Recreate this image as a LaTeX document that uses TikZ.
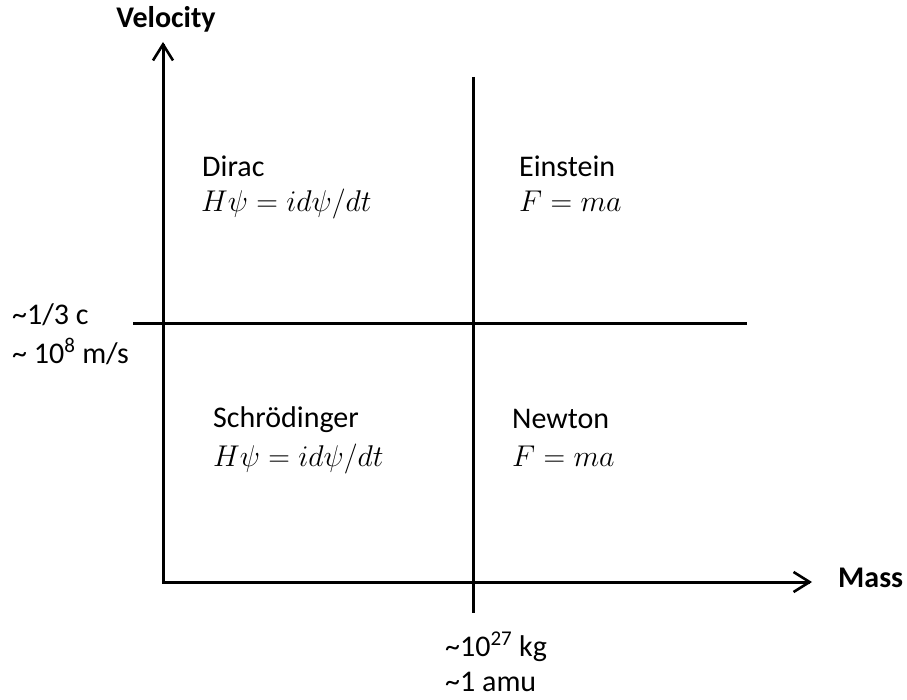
\RequirePackage{fix-cm}
\documentclass[tikz,border=0pt]{standalone}
\usepackage{fontspec}
\setmainfont{Carlito}
\usetikzlibrary{arrows.meta}
\begin{document}
\begin{tikzpicture}[x=1pt,y=-1pt,
  axis/.style={line width=3pt,-{Straight Barb[length=16pt,width=20pt,line width=2.6pt]}},
  divider/.style={line width=3pt},
  lbl/.style={anchor=base west,inner sep=0pt,font=\fontsize{30}{34}\selectfont},
  axlbl/.style={inner sep=0pt,font=\fontsize{30}{34}\selectfont\bfseries}]
\useasboundingbox (0,0) rectangle (907,700);
\coordinate (O) at (163,582);
\coordinate (ytip) at (163,42);
\coordinate (xtip) at (812,582);
\coordinate (vtop) at (473,77);
\coordinate (vbot) at (473,613);
\coordinate (hl) at (133,324);
\coordinate (hr) at (747,324);
\draw[divider] (vtop) -- (vbot);
\draw[divider] (hl) -- (hr);
\draw[axis,line cap=rect] (O) -- (ytip);
\draw[axis,line cap=rect] (O) -- (xtip);
\node[axlbl,anchor=base] (vel) at (166,28) {Velocity};
\node[axlbl,anchor=base west] (mass) at (838,587) {Mass};
\node[lbl] (c1) at (12,325) {\textasciitilde 1/3 c};
\node[lbl] (c2) at (12,363) {\textasciitilde{} 10\textsuperscript{8} m/s};
\node[lbl] (k1) at (445,656) {\textasciitilde 10\textsuperscript{27} kg};
\node[lbl] (k2) at (445,691) {\textasciitilde 1 amu};
\node[lbl] (dirac) at (202,177) {Dirac};
\node[lbl] (dirf) at (201,212) {$H\psi = i d\psi/dt$};
\node[lbl] (ein) at (519,177) {Einstein};
\node[lbl] (einf) at (519,212) {$F = ma$};
\node[lbl] (sch) at (213,427) {Schrödinger};
\node[lbl] (schf) at (213,466) {$H\psi = i d\psi/dt$};
\node[lbl] (new) at (512,428) {Newton};
\node[lbl] (newf) at (512,466) {$F = ma$};
\end{tikzpicture}
\end{document}
